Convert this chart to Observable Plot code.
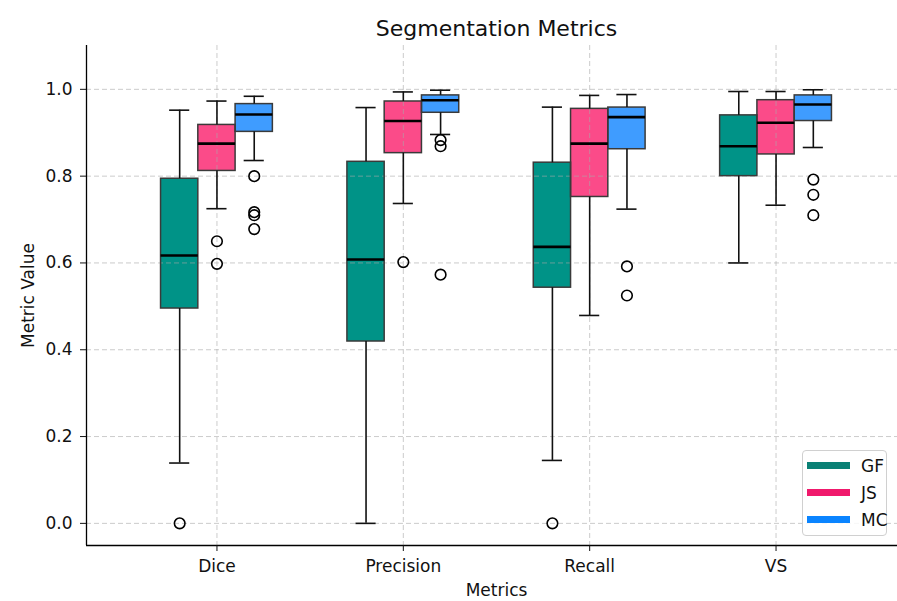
<!DOCTYPE html>
<html>
<head>
<meta charset="utf-8">
<script src="https://cdn.jsdelivr.net/npm/d3@7"></script>
<script src="https://cdn.jsdelivr.net/npm/@observablehq/plot@0.6"></script>
<style>
  html, body { margin: 0; padding: 0; background: #fff; overflow: hidden; }
  #wrap { position: relative; width: 906px; height: 601px; }
  #legend {
    position: absolute; left: 802px; top: 450px; width: 85px; height: 86px;
    border: 1px solid #d0d0d0; border-radius: 4px; background: rgba(255,255,255,0.85);
    font-family: "DejaVu Sans", sans-serif; font-size: 17px; color: #111; box-sizing: border-box;
  }
  .row { position: absolute; left: 0; height: 20px; }
  .sw { position: absolute; left: 4px; width: 43px; height: 7px; top: 6px; }
  .lb { position: absolute; left: 58px; top: 0; line-height: 20px; }
</style>
</head>
<body>
<div id="wrap"><div id="legend"></div></div>
<script>
const metrics = ["Dice", "Precision", "Recall", "VS"];
const methods = ["GF", "JS", "MC"];
const boxColors = ["#009387", "#fb4b89", "#3f9cff"];
const legendColors = ["#0a8175", "#f0196c", "#0a84ff"];
const yTicks = [0.0, 0.2, 0.4, 0.6, 0.8, 1.0];

// per method, values ordered as metrics
const whiskerLow = {
  GF: [0.139, 0.000, 0.145, 0.600],
  JS: [0.725, 0.737, 0.479, 0.733],
  MC: [0.836, 0.896, 0.724, 0.866]
};
const q1 = {
  GF: [0.495, 0.419, 0.543, 0.800],
  JS: [0.812, 0.853, 0.752, 0.850],
  MC: [0.902, 0.946, 0.862, 0.927]
};
const median = {
  GF: [0.617, 0.608, 0.637, 0.869],
  JS: [0.875, 0.927, 0.875, 0.923],
  MC: [0.942, 0.975, 0.936, 0.965]
};
const q3 = {
  GF: [0.794, 0.833, 0.831, 0.940],
  JS: [0.918, 0.972, 0.955, 0.975],
  MC: [0.966, 0.986, 0.958, 0.986]
};
const whiskerHigh = {
  GF: [0.952, 0.958, 0.959, 0.995],
  JS: [0.973, 0.994, 0.986, 0.995],
  MC: [0.984, 0.998, 0.988, 0.999]
};
const outliers = {
  GF: [[0.0], [], [0.0], []],
  JS: [[0.650, 0.598], [0.602], [], []],
  MC: [[0.800, 0.717, 0.710, 0.678], [0.883, 0.869, 0.573], [0.592, 0.525], [0.792, 0.757, 0.710]]
};

const xDomain = [-0.7, 3.7];
const yDomain = [-0.051, 1.101];
const offsets = [-0.2, 0, 0.2];
const halfBox = 0.1;
const halfCap = 0.054;

const rows = [];
const pts = [];
methods.forEach((m, mi) => {
  metrics.forEach((k, ki) => {
    const pos = ki + offsets[mi];
    rows.push({method: m, metric: k, pos, color: boxColors[mi],
      low: whiskerLow[m][ki], q1: q1[m][ki], med: median[m][ki], q3: q3[m][ki], high: whiskerHigh[m][ki]});
    outliers[m][ki].forEach(v => pts.push({pos, v}));
  });
});

const gridStyle = {stroke: "#a8a8a8", strokeOpacity: 0.6, strokeDasharray: "5,3", strokeWidth: 1};

const chart = Plot.plot({
  width: 906, height: 601,
  marginLeft: 86, marginRight: 0, marginTop: 45, marginBottom: 56,
  style: {fontFamily: "DejaVu Sans, sans-serif", fontSize: "17px", color: "#111", background: "white"},
  x: {type: "linear", domain: xDomain, axis: null},
  y: {domain: yDomain, axis: null},
  marks: [
    Plot.rect(rows, {x1: d => d.pos - halfBox, x2: d => d.pos + halfBox, y1: "q1", y2: "q3", fill: d => d.color}),
    Plot.gridY(yTicks, gridStyle),
    Plot.gridX([0, 1, 2, 3], gridStyle),
    Plot.rect(rows, {x1: d => d.pos - halfBox, x2: d => d.pos + halfBox, y1: "q1", y2: "q3", fill: "none", stroke: "#3a3a3a", strokeWidth: 1.5}),
    Plot.ruleX(rows, {x: "pos", y1: "low", y2: "q1", stroke: "#111", strokeWidth: 1.6}),
    Plot.ruleX(rows, {x: "pos", y1: "q3", y2: "high", stroke: "#111", strokeWidth: 1.6}),
    Plot.ruleY(rows, {y: "low", x1: d => d.pos - halfCap, x2: d => d.pos + halfCap, stroke: "#111", strokeWidth: 1.6}),
    Plot.ruleY(rows, {y: "high", x1: d => d.pos - halfCap, x2: d => d.pos + halfCap, stroke: "#111", strokeWidth: 1.6}),
    Plot.ruleY(rows, {y: "med", x1: d => d.pos - halfBox, x2: d => d.pos + halfBox, stroke: "#000", strokeWidth: 2.6}),
    Plot.dot(pts, {x: "pos", y: "v", r: 5.3, stroke: "#000", strokeWidth: 1.6, fill: "none"}),
    Plot.ruleX([xDomain[0]], {stroke: "#000", strokeWidth: 1.3}),
    Plot.ruleY([yDomain[0]], {stroke: "#000", strokeWidth: 1.3}),
    Plot.axisY({ticks: yTicks, tickFormat: d3.format(".1f"), tickSize: 6, tickPadding: 8, label: null, fontSize: 17}),
    Plot.axisX({ticks: [0, 1, 2, 3], tickFormat: i => metrics[i], tickSize: 6, tickPadding: 8, label: null, fontSize: 17}),
    Plot.text(["Metric Value"], {text: d => d, frameAnchor: "left", dx: -58, rotate: -90, fontSize: 17, textAnchor: "middle", lineAnchor: "middle"}),
    Plot.text(["Metrics"], {text: d => d, frameAnchor: "bottom", dy: 45, fontSize: 17, textAnchor: "middle", lineAnchor: "middle"}),
    Plot.text(["Segmentation Metrics"], {text: d => d, frameAnchor: "top", dy: -17, fontSize: 22, textAnchor: "middle", lineAnchor: "middle"})
  ]
});
const wrap = document.getElementById("wrap");
wrap.insertBefore(chart, wrap.firstChild);

const legend = document.getElementById("legend");
methods.forEach((m, i) => {
  const row = document.createElement("div");
  row.className = "row";
  row.style.top = (5 + i * 27) + "px";
  row.style.width = "100%";
  const sw = document.createElement("div");
  sw.className = "sw";
  sw.style.background = legendColors[i];
  const lb = document.createElement("div");
  lb.className = "lb";
  lb.textContent = m;
  row.appendChild(sw);
  row.appendChild(lb);
  legend.appendChild(row);
});
</script>
</body>
</html>
